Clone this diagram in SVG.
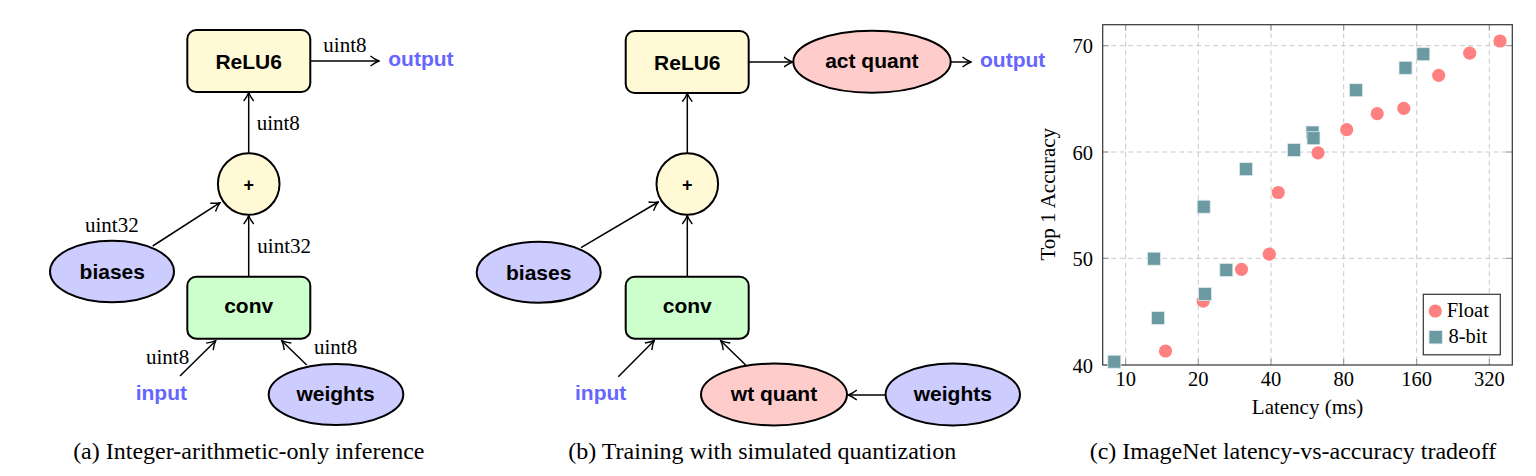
<svg xmlns="http://www.w3.org/2000/svg" width="1536" height="476" viewBox="0 0 1536 476">
<style>
.box{stroke:#000;stroke-width:2}
.yel{fill:#fff9d5}
.grn{fill:#ccffcc}
.blu{fill:#ccccff}
.red{fill:#ffcccc}
.nl{font-family:"Liberation Sans",Arial,sans-serif;font-weight:bold;font-size:21px;text-anchor:middle;fill:#000}
.io{font-family:"Liberation Sans",Arial,sans-serif;font-weight:bold;font-size:21px;fill:#6666ff}
.lb{font-family:"Liberation Serif","Times New Roman",serif;font-size:21px;fill:#000}
.cap{font-family:"Liberation Serif","Times New Roman",serif;font-size:24px;text-anchor:middle;fill:#000}
.tk{font-family:"Liberation Serif","Times New Roman",serif;font-size:20.5px;fill:#000}
.edge{stroke:#000;stroke-width:1.5;fill:none;marker-end:url(#arr)}
.grid{stroke:#c8c8c8;stroke-width:1;stroke-dasharray:5 3.5}
.tick{stroke:#909090;stroke-width:1}
.fl{fill:#ff8080}
.bt{fill:#6c9aa3;stroke:#dfeaec;stroke-width:0.8}
</style>
<defs>
<marker id="arr" viewBox="0 0 10 12" refX="9" refY="6" markerWidth="10" markerHeight="12" markerUnits="userSpaceOnUse" orient="auto">
<path d="M0.5,1 Q5,4.6 9,6 Q5,7.4 0.5,11" fill="none" stroke="#000" stroke-width="1.4"/>
</marker>
</defs>
<rect width="1536" height="476" fill="#fff"/>

<!-- Panel (a) -->
<g id="a-connectors">
<line class="edge" x1="310" y1="61" x2="379" y2="61"/>
<line class="edge" x1="248.7" y1="153.2" x2="248.7" y2="92.5"/>
<line class="edge" x1="152.7" y1="246" x2="220" y2="202.7"/>
<line class="edge" x1="248.7" y1="276.7" x2="248.7" y2="215.5"/>
<line class="edge" x1="180" y1="376" x2="215.7" y2="340.7"/>
<line class="edge" x1="306.7" y1="365" x2="281.7" y2="340.7"/>
<text class="lb" x="323.3" y="52.3">uint8</text>
<text class="lb" x="256.7" y="130">uint8</text>
<text class="lb" x="85" y="231.7">uint32</text>
<text class="lb" x="257.3" y="252.7">uint32</text>
<text class="lb" x="146" y="364.3">uint8</text>
<text class="lb" x="314" y="354.3">uint8</text>
</g>
<g id="a-relu6"><rect class="box yel" x="187.3" y="30" width="123" height="62" rx="9"/><text class="nl" x="248.7" y="68.8">ReLU6</text></g>
<g id="a-output"><text class="io" x="388.3" y="66">output</text></g>
<g id="a-add"><circle class="box yel" cx="248.7" cy="184" r="30.8"/><text class="nl" x="248.7" y="190.5" style="font-size:18px">+</text></g>
<g id="a-biases"><ellipse class="box blu" cx="112" cy="271.5" rx="62" ry="30.8"/><text class="nl" x="112.3" y="279">biases</text></g>
<g id="a-conv"><rect class="box grn" x="187.3" y="276.7" width="123" height="62" rx="9"/><text class="nl" x="248.7" y="313.3">conv</text></g>
<g id="a-input"><text class="io" x="135.7" y="400">input</text></g>
<g id="a-weights"><ellipse class="box blu" cx="336" cy="394.5" rx="67.3" ry="30.5"/><text class="nl" x="335.5" y="400.5">weights</text></g>

<!-- Panel (b) -->
<g id="b-connectors">
<line class="edge" x1="748.7" y1="62" x2="792.5" y2="62"/>
<line class="edge" x1="950.7" y1="62" x2="971" y2="62"/>
<line class="edge" x1="687.3" y1="153.2" x2="687.3" y2="93.2"/>
<line class="edge" x1="581" y1="247.7" x2="658.3" y2="202"/>
<line class="edge" x1="687.3" y1="276.7" x2="687.3" y2="215.5"/>
<line class="edge" x1="618.3" y1="376.7" x2="654.3" y2="340.5"/>
<line class="edge" x1="745.7" y1="365" x2="720.7" y2="340.7"/>
<line class="edge" x1="885.7" y1="395" x2="848.3" y2="395"/>
</g>
<g id="b-relu6"><rect class="box yel" x="625.7" y="31" width="123" height="62" rx="9"/><text class="nl" x="687.3" y="69.5">ReLU6</text></g>
<g id="b-actquant"><ellipse class="box red" cx="872" cy="61.7" rx="78.7" ry="31"/><text class="nl" x="871.8" y="68">act quant</text></g>
<g id="b-output"><text class="io" x="980" y="66.7">output</text></g>
<g id="b-add"><circle class="box yel" cx="687.3" cy="184" r="30.8"/><text class="nl" x="687.3" y="190.5" style="font-size:18px">+</text></g>
<g id="b-biases"><ellipse class="box blu" cx="538.7" cy="272.2" rx="62" ry="30.5"/><text class="nl" x="538.7" y="279.5">biases</text></g>
<g id="b-conv"><rect class="box grn" x="625.7" y="276.7" width="123" height="62" rx="9"/><text class="nl" x="687.3" y="313.3">conv</text></g>
<g id="b-input"><text class="io" x="575" y="400">input</text></g>
<g id="b-wtquant"><ellipse class="box red" cx="774" cy="394.5" rx="73" ry="31"/><text class="nl" x="774" y="401">wt quant</text></g>
<g id="b-weights"><ellipse class="box blu" cx="952.8" cy="394.5" rx="67.2" ry="31"/><text class="nl" x="952.8" y="401">weights</text></g>

<!-- Panel (c) plot -->
<g id="plot">
<g id="grid">
<line class="grid" x1="1125.7" y1="24.7" x2="1125.7" y2="365"/>
<line class="grid" x1="1198.3" y1="24.7" x2="1198.3" y2="365"/>
<line class="grid" x1="1271" y1="24.7" x2="1271" y2="365"/>
<line class="grid" x1="1343.7" y1="24.7" x2="1343.7" y2="365"/>
<line class="grid" x1="1416.7" y1="24.7" x2="1416.7" y2="365"/>
<line class="grid" x1="1489.3" y1="24.7" x2="1489.3" y2="365"/>
<line class="grid" x1="1102.7" y1="45.7" x2="1512.3" y2="45.7"/>
<line class="grid" x1="1102.7" y1="152" x2="1512.3" y2="152"/>
<line class="grid" x1="1102.7" y1="258.3" x2="1512.3" y2="258.3"/>
</g>
<g id="ticks">
<path class="tick" d="M1125.7,365v-6M1198.3,365v-6M1271,365v-6M1343.7,365v-6M1416.7,365v-6M1489.3,365v-6M1125.7,24.7v6M1198.3,24.7v6M1271,24.7v6M1343.7,24.7v6M1416.7,24.7v6M1489.3,24.7v6M1102.7,45.7h6M1102.7,152h6M1102.7,258.3h6M1512.3,45.7h-6M1512.3,152h-6M1512.3,258.3h-6"/>
</g>
<rect x="1102.7" y="24.7" width="409.6" height="340.3" fill="none" stroke="#333" stroke-width="1.2"/>
<g id="float-points" class="fl">
<circle cx="1165.5" cy="351" r="6.6"/>
<circle cx="1203.2" cy="301.2" r="6.6"/>
<circle cx="1241.5" cy="269.3" r="6.6"/>
<circle cx="1269.3" cy="254.2" r="6.6"/>
<circle cx="1278.2" cy="192.5" r="6.6"/>
<circle cx="1318" cy="152.8" r="6.6"/>
<circle cx="1346.7" cy="129.7" r="6.6"/>
<circle cx="1377.2" cy="113.7" r="6.6"/>
<circle cx="1403.8" cy="108.3" r="6.6"/>
<circle cx="1438.7" cy="75.3" r="6.6"/>
<circle cx="1469.7" cy="53.2" r="6.6"/>
<circle cx="1500" cy="41" r="6.6"/>
</g>
<g id="int8-points" class="bt">
<rect x="1107.8" y="355.2" width="13" height="13"/>
<rect x="1147.5" y="252.2" width="13" height="13"/>
<rect x="1151.5" y="311.5" width="13" height="13"/>
<rect x="1197.2" y="200.2" width="13" height="13"/>
<rect x="1198.5" y="287.5" width="13" height="13"/>
<rect x="1219.8" y="263.5" width="13" height="13"/>
<rect x="1239.5" y="162.7" width="13" height="13"/>
<rect x="1287.5" y="143.5" width="13" height="13"/>
<rect x="1306" y="126" width="13" height="13"/>
<rect x="1307" y="131.7" width="13" height="13"/>
<rect x="1349.5" y="83.7" width="13" height="13"/>
<rect x="1399" y="61.3" width="13" height="13"/>
<rect x="1416.8" y="47.7" width="13" height="13"/>
</g>
<g id="legend">
<rect x="1423.3" y="294.3" width="77" height="60.5" fill="#fff" stroke="#333" stroke-width="1.2"/>
<circle class="fl" cx="1435.3" cy="311" r="6.6"/>
<text class="tk" x="1446.7" y="316.7">Float</text>
<rect class="bt" x="1429" y="330.6" width="13.3" height="13.3"/>
<text class="tk" x="1448.5" y="342.7">8-bit</text>
</g>
<g id="axis-labels" class="tk">
<text x="1093" y="53" text-anchor="end">70</text>
<text x="1093" y="159.5" text-anchor="end">60</text>
<text x="1093" y="265.8" text-anchor="end">50</text>
<text x="1093" y="372.5" text-anchor="end">40</text>
<text x="1125.7" y="385.7" text-anchor="middle">10</text>
<text x="1198.3" y="385.7" text-anchor="middle">20</text>
<text x="1271" y="385.7" text-anchor="middle">40</text>
<text x="1343.7" y="385.7" text-anchor="middle">80</text>
<text x="1416.7" y="385.7" text-anchor="middle">160</text>
<text x="1489.3" y="385.7" text-anchor="middle">320</text>
<text x="1307.5" y="414" text-anchor="middle" style="font-size:21px">Latency (ms)</text>
<text transform="translate(1055 194.2) rotate(-90)" text-anchor="middle" style="font-size:21px">Top 1 Accuracy</text>
</g>
</g>

<!-- Captions -->
<text class="cap" x="248.8" y="459.3">(a) Integer-arithmetic-only inference</text>
<text class="cap" x="762.2" y="459.3">(b) Training with simulated quantization</text>
<text class="cap" x="1293" y="459.3">(c) ImageNet latency-vs-accuracy tradeoff</text>
</svg>
